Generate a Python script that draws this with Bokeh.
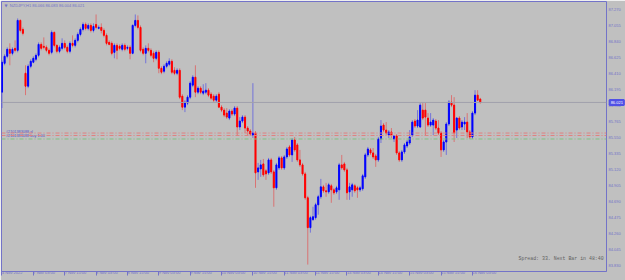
from bokeh.plotting import figure
from bokeh.models import Range1d, FixedTicker, Label, Span, ColumnDataSource, NumeralTickFormatter
from bokeh.embed import file_html
from bokeh.resources import INLINE
from bokeh.core.properties import value

# ---- data (NZDJPY, H1) ----
opens = [86.159, 86.547, 86.641, 86.735, 86.681, 86.748, 86.721, 87.123, 87.002, 86.413,
         86.239, 86.507, 86.561, 86.601, 86.654, 86.801, 86.775, 86.761, 86.721, 86.694,
         86.962, 86.788, 86.708, 86.748, 86.815, 86.761, 86.708, 86.815, 86.788, 86.855,
         86.935, 87.002, 87.069, 87.016, 87.056, 86.989, 87.069, 87.016, 87.029, 86.989,
         86.922, 86.828, 86.815, 86.694, 86.788, 86.775, 86.735, 86.788, 86.748, 86.761,
         86.681, 87.056, 87.123, 87.029, 86.735, 86.681, 86.748, 86.721, 86.681, 86.614,
         86.694, 86.480, 86.440, 86.507, 86.534, 86.574, 86.453, 86.413, 86.453, 86.105,
         85.958, 86.012, 86.092, 86.253, 86.360, 86.159, 86.213, 86.146, 86.159, 86.186,
         86.132, 86.105, 86.052, 86.132, 85.958, 85.918, 85.878, 85.811, 85.905, 85.865,
         85.945, 85.691, 85.771, 85.824, 85.677, 85.637, 85.583, 85.610, 85.088, 85.128,
         85.195, 85.102, 85.075, 85.249, 85.088, 84.874, 85.142, 85.276, 85.142, 85.289,
         85.423, 85.316, 85.517, 85.450, 85.249, 85.182, 85.061, 84.740, 84.339, 84.446,
         84.473, 84.646, 84.754, 84.887, 84.834, 84.820, 84.901, 84.847, 84.820, 84.847,
         85.182, 85.195, 85.115, 84.820, 84.847, 84.901, 84.874, 84.847, 84.861, 85.021,
         85.316, 85.383, 85.343, 85.302, 85.249, 85.530, 85.717, 85.650, 85.583, 85.624,
         85.530, 85.570, 85.343, 85.249, 85.356, 85.436, 85.476, 85.583, 85.771, 85.704,
         85.691, 85.918, 85.918, 85.811, 85.717, 85.717, 85.771, 85.677, 85.610, 85.383,
         85.490, 85.731, 86.025, 85.985, 85.650, 85.811, 85.691, 85.731, 85.757, 85.624,
         85.557, 85.878, 86.119, 86.066]
highs = [86.587, 86.668, 86.761, 86.815, 86.761, 86.855, 87.150, 87.136, 87.029, 86.520,
         86.534, 86.601, 86.641, 86.681, 86.828, 86.828, 86.895, 86.788, 86.748, 86.989,
         86.975, 86.801, 86.788, 86.882, 86.855, 86.788, 86.842, 86.922, 86.882, 86.962,
         87.029, 87.096, 87.096, 87.083, 87.083, 87.083, 87.203, 87.056, 87.083, 87.016,
         86.949, 86.855, 86.842, 86.815, 86.815, 86.801, 86.815, 86.815, 86.788, 86.788,
         87.069, 87.203, 87.190, 87.056, 86.761, 86.788, 86.815, 86.748, 86.708, 86.721,
         86.721, 86.507, 86.534, 86.574, 86.614, 86.601, 86.494, 86.480, 86.480, 86.132,
         86.052, 86.119, 86.306, 86.387, 86.520, 86.239, 86.239, 86.266, 86.280, 86.213,
         86.159, 86.132, 86.132, 86.159, 85.985, 85.945, 85.945, 85.931, 85.931, 85.972,
         85.972, 85.824, 85.851, 85.851, 85.704, 85.664, 86.280, 85.637, 85.209, 85.249,
         85.262, 85.128, 85.276, 85.276, 85.115, 85.209, 85.302, 85.302, 85.316, 85.423,
         85.450, 85.543, 85.557, 85.476, 85.383, 85.209, 85.088, 84.767, 84.499, 84.620,
         84.673, 84.780, 84.994, 84.914, 84.941, 84.941, 84.927, 84.874, 84.901, 85.209,
         85.316, 85.222, 85.142, 84.941, 84.941, 84.927, 84.901, 84.901, 85.061, 85.343,
         85.423, 85.409, 85.409, 85.329, 85.557, 85.784, 85.744, 85.757, 85.650, 85.677,
         85.583, 85.597, 85.369, 85.383, 85.476, 85.517, 85.650, 85.784, 85.798, 85.918,
         86.012, 86.012, 86.012, 85.878, 85.878, 85.811, 85.798, 85.784, 85.637, 85.517,
         85.757, 86.052, 86.119, 86.092, 85.824, 85.838, 85.784, 85.824, 85.878, 85.650,
         85.905, 86.186, 86.186, 86.083]
lows = [85.945, 86.520, 86.614, 86.520, 86.654, 86.694, 86.694, 86.962, 86.922, 86.119,
        86.213, 86.480, 86.547, 86.574, 86.627, 86.721, 86.735, 86.694, 86.654, 86.668,
        86.761, 86.681, 86.681, 86.721, 86.735, 86.681, 86.681, 86.761, 86.761, 86.828,
        86.909, 86.975, 86.989, 86.989, 86.962, 86.962, 87.002, 87.002, 86.949, 86.895,
        86.788, 86.788, 86.654, 86.614, 86.601, 86.721, 86.708, 86.708, 86.721, 86.601,
        86.668, 87.029, 87.002, 86.694, 86.654, 86.547, 86.694, 86.627, 86.561, 86.587,
        86.413, 86.400, 86.413, 86.480, 86.507, 86.400, 86.387, 86.387, 86.065, 85.918,
        85.891, 85.985, 86.065, 86.226, 86.092, 86.132, 86.132, 86.119, 86.132, 86.092,
        86.052, 86.025, 86.025, 85.945, 85.891, 85.824, 85.798, 85.784, 85.838, 85.838,
        85.583, 85.650, 85.744, 85.610, 85.583, 85.570, 85.543, 84.874, 84.981, 85.021,
        85.021, 84.981, 85.048, 85.061, 84.620, 84.847, 85.115, 85.115, 85.115, 85.262,
        85.289, 85.222, 85.356, 85.222, 85.155, 85.035, 84.713, 83.843, 84.272, 84.432,
        84.446, 84.513, 84.727, 84.807, 84.754, 84.794, 84.673, 84.780, 84.794, 84.713,
        85.115, 85.088, 84.713, 84.713, 84.754, 84.807, 84.740, 84.820, 84.834, 84.994,
        85.289, 85.316, 85.262, 85.155, 85.222, 85.476, 85.624, 85.583, 85.543, 85.543,
        85.490, 85.316, 85.222, 85.222, 85.329, 85.409, 85.450, 85.557, 85.677, 85.677,
        85.677, 85.784, 85.583, 85.691, 85.691, 85.583, 85.650, 85.583, 85.289, 85.356,
        85.316, 85.704, 85.958, 85.490, 85.543, 85.650, 85.650, 85.650, 85.543, 85.530,
        85.530, 85.851, 86.039, 86.004]
closes = [86.561, 86.641, 86.735, 86.681, 86.735, 86.721, 87.123, 86.989, 86.949, 86.239,
          86.507, 86.574, 86.614, 86.654, 86.801, 86.748, 86.761, 86.721, 86.681, 86.962,
          86.788, 86.708, 86.761, 86.815, 86.761, 86.708, 86.815, 86.788, 86.855, 86.935,
          87.002, 87.069, 87.016, 87.056, 86.989, 87.042, 87.029, 87.029, 86.989, 86.922,
          86.815, 86.801, 86.681, 86.788, 86.721, 86.748, 86.788, 86.735, 86.761, 86.681,
          87.056, 87.123, 87.029, 86.721, 86.681, 86.748, 86.721, 86.654, 86.614, 86.694,
          86.480, 86.427, 86.507, 86.547, 86.574, 86.427, 86.413, 86.453, 86.092, 85.958,
          86.025, 86.092, 86.280, 86.360, 86.159, 86.213, 86.159, 86.172, 86.186, 86.119,
          86.079, 86.052, 86.105, 85.958, 85.918, 85.851, 85.824, 85.905, 85.865, 85.945,
          85.691, 85.771, 85.824, 85.677, 85.637, 85.597, 85.610, 85.075, 85.142, 85.182,
          85.048, 85.061, 85.249, 85.088, 84.874, 85.182, 85.276, 85.142, 85.289, 85.396,
          85.316, 85.517, 85.383, 85.249, 85.182, 85.061, 84.740, 84.339, 84.473, 84.486,
          84.646, 84.754, 84.887, 84.834, 84.820, 84.914, 84.847, 84.807, 84.874, 85.182,
          85.142, 85.115, 84.807, 84.887, 84.914, 84.834, 84.847, 84.874, 85.035, 85.316,
          85.396, 85.343, 85.289, 85.249, 85.530, 85.704, 85.650, 85.610, 85.624, 85.583,
          85.570, 85.343, 85.249, 85.356, 85.450, 85.490, 85.557, 85.757, 85.704, 85.784,
          85.985, 85.811, 85.824, 85.717, 85.757, 85.784, 85.677, 85.610, 85.383, 85.490,
          85.731, 86.025, 85.985, 85.610, 85.811, 85.677, 85.757, 85.757, 85.624, 85.557,
          85.878, 86.119, 86.052, 86.021]

x_tick_bars = [0, 12, 24, 36, 48, 60, 72, 84, 96, 108, 120, 132, 144, 156, 168, 180]
x_tick_labels = ["4 Nov 2022", "7 Nov 03:00", "7 Nov 15:00", "8 Nov 03:00", "8 Nov 15:00",
                 "9 Nov 03:00", "9 Nov 15:00", "10 Nov 03:00", "10 Nov 15:00", "11 Nov 03:00",
                 "11 Nov 15:00", "14 Nov 03:00", "14 Nov 15:00", "15 Nov 03:00", "15 Nov 15:00",
                 "16 Nov 03:00"]
y_ticks = [87.270, 87.055, 86.840, 86.625, 86.410, 86.195, 85.980, 85.765, 85.550,
           85.335, 85.120, 84.905, 84.690, 84.475, 84.260, 84.045, 83.830]

chart_title = "NZDJPY,H1  86.066 86.083 86.004 86.021"
bid_price = 86.021
order_sl_price = 85.610
order_open_price = 85.577
order_green_price = 85.530
order_sl_text = "#2101383088 sl"
order_open_text = "#2101383088 buy 1.00"
status_text = "Spread: 33. Next Bar in 48:40"

# ---- style ----
BG = "#c0c0c0"
FG = "#7373c8"
UP = "#0000ff"
DN = "#ff0000"

n = len(closes)
idx = list(range(n))
up = [c >= o for o, c in zip(opens, closes)]
src = ColumnDataSource(dict(
    x=idx, o=opens, h=highs, l=lows, c=closes,
    top=[max(o, c) for o, c in zip(opens, closes)],
    bot=[min(o, c) for o, c in zip(opens, closes)],
    col=[UP if u else DN for u in up],
))

p = figure(width=625, height=280, output_backend="svg", toolbar_location=None,
           x_range=Range1d(-0.19, 231.3), y_range=Range1d(83.750, 87.377),
           x_axis_location="below", y_axis_location="right",
           min_border_left=1, min_border_top=1, min_border_right=19, min_border_bottom=8)
p.background_fill_color = BG
p.border_fill_color = BG
p.outline_line_color = FG
p.outline_line_width = 1
p.xgrid.visible = False
p.ygrid.visible = False

# current bid line
p.add_layout(Span(location=bid_price, dimension="width", line_color="#a0a0ac", line_width=1))

# order lines
p.add_layout(Span(location=order_sl_price, dimension="width", line_color="#e08080",
                  line_width=1, line_dash="4 2 1 2"))
p.add_layout(Span(location=order_open_price, dimension="width", line_color="#e08080",
                  line_width=1, line_dash="4 2 1 2"))
p.add_layout(Span(location=order_green_price, dimension="width", line_color="#80c080",
                  line_width=1, line_dash="4 2 1 2"))

# candles
p.segment(x0="x", y0="l", x1="x", y1="h", source=src, line_color="col", line_alpha=0.4, line_width=1)
p.vbar(x="x", top="top", bottom="bot", width=0.4, source=src, fill_color="col", line_color="col", line_width=1)

# texts
p.text(x=[3.0], y=[87.325], text=[chart_title], text_font=value("Liberation Sans"),
       text_font_size="4px", text_color=FG, text_baseline="middle")
p.text(x=[1.0], y=[87.325], text=["▼"], text_font=value("DejaVu Sans"),
       text_font_size="4px", text_color=FG, text_baseline="middle")
p.text(x=[1.5], y=[order_sl_price + 0.02], text=[order_sl_text], text_font=value("Liberation Sans"),
       text_font_size="3.8px", text_color="#5050c8", text_baseline="middle")
p.text(x=[1.5], y=[order_open_price - 0.005], text=[order_open_text], text_font=value("Liberation Sans"),
       text_font_size="3.8px", text_color="#5050c8", text_baseline="middle")
p.text(x=[230.2], y=[83.925], text=[status_text], text_font=value("Liberation Mono"),
       text_font_size="4.9px", text_color="#606060", text_align="right", text_baseline="middle")

# axes
xa = p.xaxis[0]
xa.ticker = FixedTicker(ticks=x_tick_bars)
xa.major_label_overrides = {b: t for b, t in zip(x_tick_bars, x_tick_labels)}
xa.major_label_orientation = -1e-6
xa.major_tick_out = 4
xa.major_tick_in = 0
xa.minor_tick_out = 0
xa.minor_tick_in = 0
xa.major_label_standoff = -3
xa.axis_line_color = FG
xa.major_tick_line_color = FG
xa.major_label_text_color = FG
xa.major_label_text_font = "Liberation Sans"
xa.major_label_text_font_size = "4px"

ya = p.yaxis[0]
ya.ticker = FixedTicker(ticks=y_ticks)
ya.formatter = NumeralTickFormatter(format="0.000")
ya.major_tick_out = 0
ya.major_tick_in = 0
ya.minor_tick_out = 0
ya.minor_tick_in = 0
ya.major_label_standoff = -12
ya.axis_line_color = None
ya.major_tick_line_color = None
ya.major_label_text_color = FG
ya.major_label_text_font = "Liberation Sans"
ya.major_label_text_font_size = "4px"

# bid price box on the price scale (in the side panel, nearest the frame, so it is not clipped)
bid_label = Label(x=232.5, y=bid_price, text=f"{bid_price:.3f}",
                  text_font="Liberation Sans", level="overlay",
                  text_font_size="4px", text_color="white", text_baseline="middle",
                  background_fill_color="#5050e6", background_fill_alpha=1.0,
                  border_line_color="#5050e6", border_line_width=2,
                  padding=dict(left=1, right=1, top=1, bottom=1))
p.right = [bid_label, ya]

open("out.html", "w").write(file_html(p, INLINE))
